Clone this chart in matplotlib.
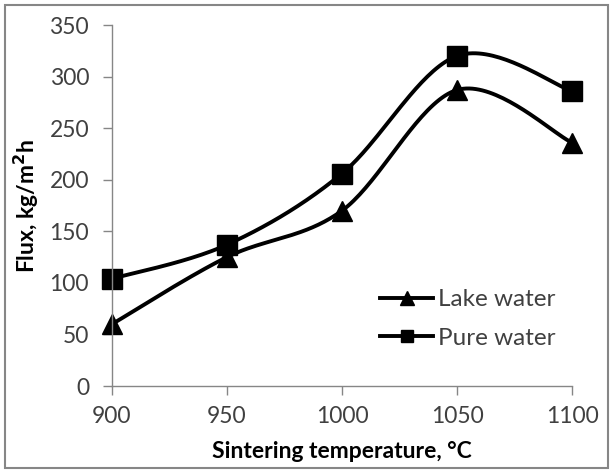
import numpy as np
import matplotlib
matplotlib.use("Agg")
import matplotlib.pyplot as plt
from matplotlib.patches import Rectangle

temps = [900, 950, 1000, 1050, 1100]
lake_water = [60, 125, 170, 287, 236]
pure_water = [104, 137, 206, 320, 286]
xticks = [900, 950, 1000, 1050, 1100]
yticks = [0, 50, 100, 150, 200, 250, 300, 350]

plt.rcParams['font.family'] = ['Lato', 'DejaVu Sans']


def smooth(x, y, n=40):
    # Excel-like smoothed line: cubic Bezier with Catmull-Rom control points
    x = np.asarray(x, float)
    y = np.asarray(y, float)
    pts = np.column_stack([x, y])
    out = []
    for i in range(len(pts) - 1):
        p0 = pts[i - 1] if i > 0 else pts[i]
        p1 = pts[i]
        p2 = pts[i + 1]
        p3 = pts[i + 2] if i + 2 < len(pts) else pts[i + 1]
        c1 = p1 + (p2 - p0) / 6.0
        c2 = p2 - (p3 - p1) / 6.0
        t = np.linspace(0, 1, n)[:, None]
        seg = ((1 - t) ** 3) * p1 + 3 * ((1 - t) ** 2) * t * c1 + 3 * (1 - t) * t ** 2 * c2 + t ** 3 * p2
        out.append(seg if i == 0 else seg[1:])
    out = np.vstack(out)
    return out[:, 0], out[:, 1]


fig = plt.figure(figsize=(6.13, 4.73), dpi=100)
ax = fig.add_axes([0.1827, 0.1839, 0.7504, 0.7632])

gray = '#868686'
txt = '#404040'
for data, marker, ms, lms, label in [(lake_water, '^', 14, 10, 'Lake water'),
                                     (pure_water, 's', 14.5, 8.5, 'Pure water')]:
    sx, sy = smooth(temps, data)
    ax.plot(sx, sy, color='black', lw=2.8, solid_capstyle='round', clip_on=False)
    ax.plot(temps, data, linestyle='none', marker=marker, ms=ms, color='black', clip_on=False)
    ax.plot([], [], color='black', lw=2.8, marker=marker, ms=lms, label=label)

ax.set_xlim(900, 1100)
ax.set_ylim(0, 350)
ax.set_xticks(xticks)
ax.set_yticks(yticks)
for s in ['top', 'right']:
    ax.spines[s].set_visible(False)
for s in ['left', 'bottom']:
    ax.spines[s].set_color(gray)
    ax.spines[s].set_linewidth(1.0)
ax.tick_params(axis='both', colors=gray, length=6.5, width=1.0, direction='out',
               labelcolor=txt, labelsize=16.5)
ax.tick_params(axis='x', pad=8)
ax.tick_params(axis='y', pad=10)

ax.set_xlabel('Sintering temperature, °C', fontsize=16.5, fontweight='bold',
              labelpad=10, color='black')
ax.set_ylabel('Flux, kg/m$^\\mathbf{2}$h', fontsize=16.5, fontweight='bold',
              labelpad=6, color='black')

leg = ax.legend(loc='upper left', bbox_to_anchor=(0.5826, 0.268), frameon=False,
                fontsize=17.5, handlelength=2.2, handletextpad=0.2,
                labelspacing=0.72, labelcolor=txt, borderaxespad=0, borderpad=0)

fig.patches.append(Rectangle((5 / 613, 5 / 473), 603 / 613, 463 / 473,
                             transform=fig.transFigure,
                             fill=False, edgecolor=gray, lw=1.5))

fig.savefig('out.png', dpi=100)
